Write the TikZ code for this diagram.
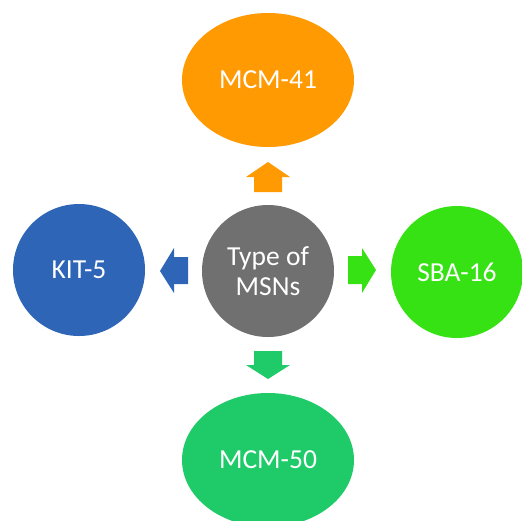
\documentclass[tikz,border=0pt]{standalone}
\usepackage{fontspec}
\setmainfont{Carlito}
\definecolor{corange}{HTML}{FF9A02}
\definecolor{cblue}{HTML}{2E65B7}
\definecolor{cgray}{HTML}{707070}
\definecolor{clime}{HTML}{36E214}
\definecolor{cgreen}{HTML}{1FCB69}
\begin{document}
\begin{tikzpicture}[x=1pt,y=-1pt,
  blob/.style={ellipse, draw=none, text=white, font=\fontsize{27.5}{30}\selectfont, align=center, inner sep=0pt},
  circ/.style={circle, draw=none, minimum size=132pt, text=white, font=\fontsize{27.5}{30}\selectfont, align=center, inner sep=0pt}]
\useasboundingbox (0,0) rectangle (522,520);
\begin{scope}
\clip (0,0) rectangle (522,520);
\fill[corange] (268,80) ellipse [x radius=86, y radius=67];
\fill[cgreen] (268,460) ellipse [x radius=86, y radius=67];
\end{scope}
\node[circ, fill=cgray] (center) at (268,271) {Type of\\MSNs};
\node[circ, fill=cblue] (kit) at (79,270) {KIT-5};
\node[circ, fill=clime] (sba) at (457,272) {SBA-16};
\node[text=white, font=\fontsize{27.5}{30}\selectfont] (mcm41) at (268,80) {MCM-41};
\node[text=white, font=\fontsize{27.5}{30}\selectfont] (mcm50) at (268,460) {MCM-50};
% block arrows
\fill[corange] (268,162) -- (290,177) -- (282,177) -- (282,192) -- (254,192) -- (254,177) -- (246,177) -- cycle;
\fill[cgreen] (268,379) -- (290,365) -- (282,365) -- (282,351) -- (254,351) -- (254,365) -- (246,365) -- cycle;
\fill[cblue] (160,271) -- (174,248) -- (174,257) -- (188,257) -- (188,284) -- (174,284) -- (174,293) -- cycle;
\fill[clime] (376,270) -- (362,248) -- (362,256) -- (348,256) -- (348,284) -- (362,284) -- (362,293) -- cycle;
\end{tikzpicture}
\end{document}
